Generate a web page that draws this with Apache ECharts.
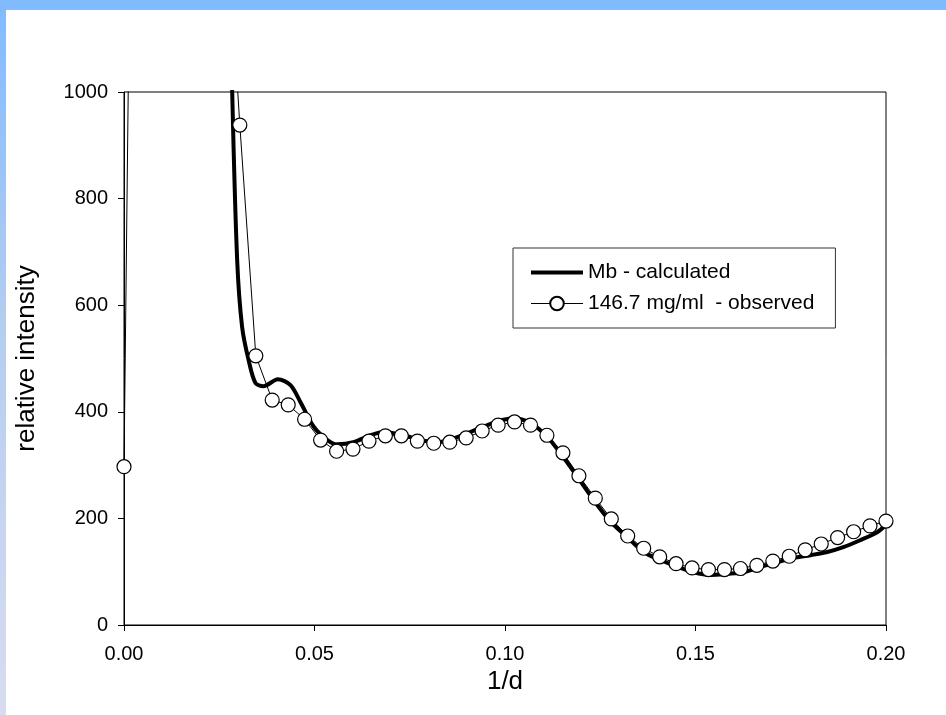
<!DOCTYPE html>
<html>
<head>
<meta charset="utf-8">
<script src="https://cdn.jsdelivr.net/npm/echarts@6/dist/echarts.min.js"></script>
<style>
  html, body { margin: 0; padding: 0; }
  body { width: 946px; height: 715px; position: relative; overflow: hidden;
         background: linear-gradient(to bottom, #80bbff 0%, #b4cdf0 45%, #d8dcf0 100%); }
  #paper { position: absolute; left: 6px; top: 10px; right: 0; bottom: 0; background: #fff; }
  #main { position: absolute; left: 0; top: 0; width: 946px; height: 715px; }
</style>
</head>
<body>
<div id="paper"></div>
<div id="main"></div>
<script>
// 1/d positions and intensities
var calcX = [0.0270, 0.0284, 0.0297, 0.0310, 0.0327, 0.0345, 0.0366, 0.0404, 0.0437, 0.0464,
    0.0498, 0.0534, 0.0560, 0.0602, 0.0647, 0.0681, 0.0734, 0.0778, 0.0823, 0.0865,
    0.0909, 0.0954, 0.0996, 0.1022, 0.1067, 0.1111, 0.1150, 0.1190, 0.1232, 0.1277,
    0.1322, 0.1364, 0.1408, 0.1453, 0.1495, 0.1539, 0.1584, 0.1626, 0.1671, 0.1716,
    0.1757, 0.1802, 0.1846, 0.1888, 0.1932, 0.1977, 0.2000];
var calcY = [1500, 1000, 685, 559, 497, 454, 448, 461, 450, 417,
    372, 347, 339, 343, 356, 362, 356, 347, 343, 350,
    362, 375, 385, 388, 379, 353, 318, 278, 235, 194,
    164, 137, 122, 109, 99, 94, 96, 99, 109, 118,
    126, 131, 137, 146, 159, 174, 188];

var obsX = [0.0000, 0.0030, 0.0262, 0.0304, 0.0346, 0.0389, 0.0431, 0.0474, 0.0516, 0.0558,
    0.0601, 0.0643, 0.0686, 0.0728, 0.0770, 0.0813, 0.0855, 0.0898, 0.0940, 0.0982,
    0.1025, 0.1067, 0.1110, 0.1152, 0.1194, 0.1237, 0.1279, 0.1322, 0.1364, 0.1406,
    0.1449, 0.1491, 0.1534, 0.1576, 0.1618, 0.1661, 0.1703, 0.1746, 0.1788, 0.1830,
    0.1873, 0.1915, 0.1958, 0.2000];
var obsY = [297, 2200, 1420, 938, 505, 422, 413, 386, 347, 326,
    330, 345, 355, 355, 345, 341, 343, 351, 364, 375,
    381, 375, 356, 323, 280, 238, 199, 167, 144, 128,
    115, 107, 104, 104, 106, 112, 120, 129, 141, 152,
    164, 175, 186, 195];

var seriesNames = ['Mb - calculated', '146.7 mg/ml  - observed'];

function pairs(xs, ys) {
    var out = [];
    for (var i = 0; i < xs.length; i++) out.push([xs[i], ys[i]]);
    return out;
}

var chart = echarts.init(document.getElementById('main'));
var font = 'Liberation Sans, Arial, sans-serif';

var option = {
    backgroundColor: 'transparent',
    animation: false,
    textStyle: { fontFamily: font, color: '#000' },
    grid: {
        left: 124, right: 60, top: 92, bottom: 90,
        show: true, borderColor: '#000', borderWidth: 1
    },
    legend: {
        left: 513, top: 248,
        orient: 'vertical',
        padding: [14, 21, 14, 16],
        borderColor: '#333', borderWidth: 1,
        itemWidth: 52, itemHeight: 17, itemGap: 10,
        textStyle: { fontSize: 21, fontFamily: font, color: '#000' },
        data: [
            { name: seriesNames[0], itemStyle: { opacity: 0 }, lineStyle: { width: 4, color: '#000' } },
            { name: seriesNames[1], lineStyle: { width: 1, color: '#000' } }
        ]
    },
    xAxis: {
        type: 'value', min: 0, max: 0.2, interval: 0.05,
        name: '1/d', nameLocation: 'middle', nameGap: 29,
        nameTextStyle: { fontSize: 26, fontFamily: font, color: '#000' },
        axisLine: { show: true, lineStyle: { color: '#000', width: 1 } },
        axisTick: { show: true, length: 6, lineStyle: { color: '#000' } },
        axisLabel: {
            fontSize: 20, color: '#000', margin: 19,
            formatter: function (v) { return v.toFixed(2); }
        },
        splitLine: { show: false }
    },
    yAxis: {
        type: 'value', min: 0, max: 1000, interval: 200,
        name: 'relative intensity', nameLocation: 'middle', nameGap: 84,
        nameTextStyle: { fontSize: 26, fontFamily: font, color: '#000' },
        axisLine: { show: true, lineStyle: { color: '#000', width: 1 } },
        axisTick: { show: true, length: 6, lineStyle: { color: '#000' } },
        axisLabel: {
            fontSize: 20, color: '#000', margin: 16,
            formatter: function (v) { return String(v); }
        },
        splitLine: { show: false }
    },
    series: [
        {
            name: seriesNames[0],
            type: 'line',
            data: pairs(calcX, calcY),
            symbol: 'none',
            smooth: 0.3,
            clip: true,
            lineStyle: { color: '#000', width: 4 },
            itemStyle: { color: '#000' }
        },
        {
            name: seriesNames[1],
            type: 'line',
            data: pairs(obsX, obsY),
            symbol: 'circle',
            symbolSize: 14,
            showAllSymbol: true,
            clip: true,
            lineStyle: { color: '#000', width: 1 },
            itemStyle: { color: '#fff', borderColor: '#000', borderWidth: 1.2 }
        }
    ]
};

chart.setOption(option);
</script>
</body>
</html>
